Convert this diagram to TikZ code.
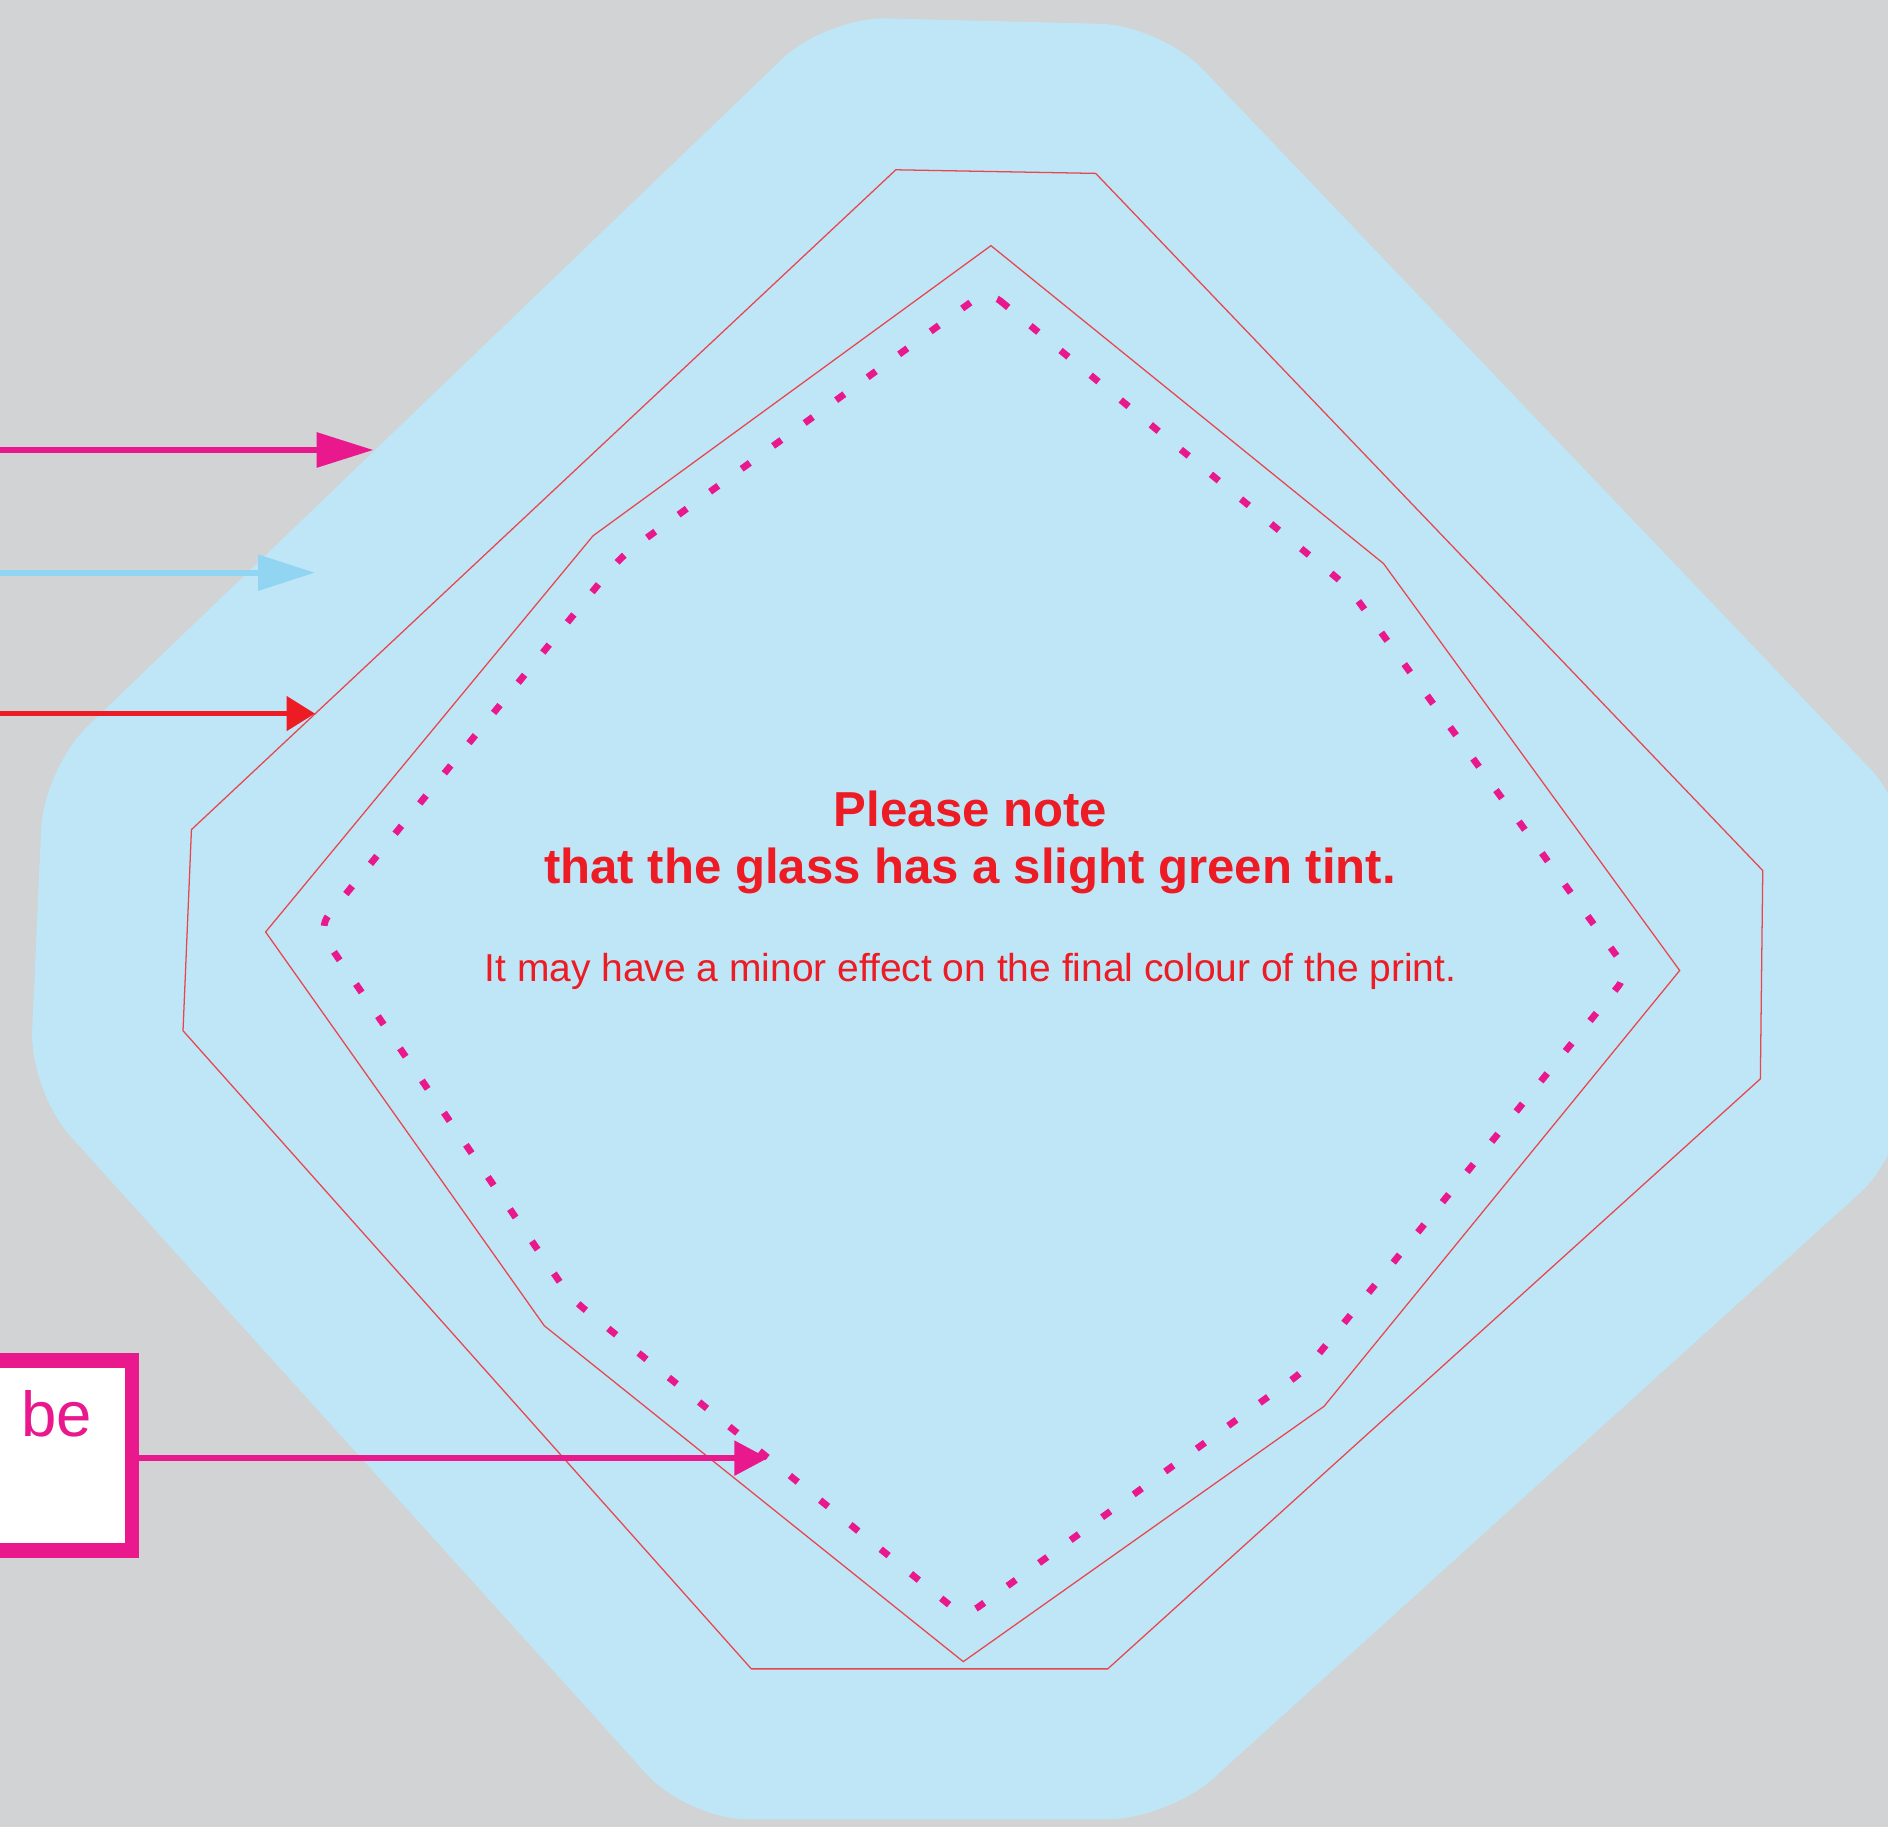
\documentclass[tikz,border=0pt]{standalone}
\usepackage{fontspec}
\setmainfont{Liberation Sans}
\usetikzlibrary{arrows.meta}
\definecolor{bggrey}{RGB}{209,211,212}
\definecolor{glassblue}{RGB}{190,230,247}
\definecolor{arrowblue}{RGB}{146,213,242}
\definecolor{mag}{RGB}{233,24,140}
\definecolor{txtred}{RGB}{237,28,36}
\definecolor{thinred}{RGB}{232,70,78}
\begin{document}
\begin{tikzpicture}[x=0.01cm,y=-0.01cm,
  outline/.style={draw=thinred, line width=0.3pt, line join=miter},
  dotline/.style={draw=mag, line width=1.6pt, dash pattern=on 2.4pt off 6.8pt, rounded corners=4pt},
  notetext/.style={anchor=base, inner sep=0pt, text=txtred},
  pinkbox/.style={draw=mag, fill=white, line width=3.4pt, inner sep=0pt}]
\useasboundingbox (0,0) rectangle (1568,1517);
\clip (0,0) rectangle (1568,1517);
\fill[bggrey] (0,0) rectangle (1568,1517);
% glass shape
\fill[glassblue, rounded corners=0.5cm] (686,14) -- (964,21) -- (1588,675) -- (1582,957) -- (970,1511) -- (571,1511) -- (24.5,906) -- (36.4,638) -- cycle;
% outlines
\draw[outline] (744,141) -- (910,144) -- (1464,723) -- (1462,896) -- (920,1386) -- (624,1386) -- (152,856) -- (159,689) -- cycle;
\draw[outline] (823,204) -- (1149,468) -- (1395,806) -- (1099.6,1168) -- (800,1380) -- (452,1101) -- (220.6,774) -- (492.5,445) -- cycle;
\draw[dotline] (820,241) -- (1120,488) -- (1353,808) -- (1085,1137) -- (801,1343) -- (474,1078) -- (264,771) -- (516,462) -- cycle;
% texts
\node[notetext, font=\bfseries\fontsize{11.6}{14}\selectfont] (n1) at (806,686.5) {Please note};
\node[notetext, font=\bfseries\fontsize{11.6}{14}\selectfont] (n2) at (805.6,733.6) {that the glass has a slight green tint.};
\node[notetext, font=\fontsize{9.2}{11}\selectfont] (n3) at (806,815.3) {It may have a minor effect on the final colour of the print.};
% box
\node[pinkbox, minimum width=1.437cm, minimum height=1.576cm] (box) at (37.85,1208.8) {};
\node[anchor=base west, inner sep=0pt, text=mag, font=\fontsize{15}{18}\selectfont] (be) at (17,1193) {be};
% arrows
\coordinate (s1) at (-10,373.7);
\coordinate (t1) at (310,373.7);
\coordinate (s2) at (-10,475.6);
\coordinate (t2) at (261.6,475.6);
\coordinate (s3) at (-10,592.6);
\coordinate (t3) at (261.6,592.6);
\coordinate (t4) at (637.7,1211);
\draw[mag, line width=1.25pt, -{Triangle[length=13.4pt,width=8.1pt]}] (s1) -- (t1);
\draw[arrowblue, line width=1.42pt, -{Triangle[length=13.4pt,width=8.2pt]}] (s2) -- (t2);
\draw[txtred, line width=1.2pt, -{Triangle[length=6.7pt,width=8pt]}] (s3) -- (t3);
\draw[mag, line width=1.35pt, -{Triangle[length=7.9pt,width=8pt]}] (box.east |- t4) -- (t4);
\end{tikzpicture}
\end{document}
